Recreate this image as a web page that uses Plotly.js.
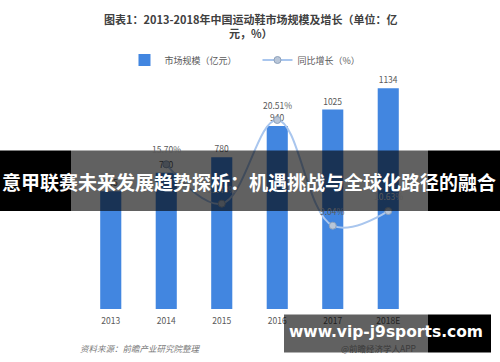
<!DOCTYPE html>
<html>
<head>
<meta charset="utf-8">
<script src="https://cdn.plot.ly/plotly-3.0.1.min.js"></script>
<style>
html,body{margin:0;padding:0;background:#fff;}
#chart{width:500px;height:362px;}
</style>
</head>
<body>
<div id="chart"></div>
<script>
var years = ['2013', '2014', '2015', '2016', '2017', '2018E'];
var marketSize = [605, 700, 780, 940, 1025, 1134];
var growth = [null, 15.70, 11.43, 20.51, 9.04, 10.63];
var growthLabels = ['', '15.70%', '11.43%', '20.51%', '9.04%', '10.63%'];

var titleText = '图表1：2013-2018年中国运动鞋市场规模及增长（单位：亿<br>元，%）';
var sourceText = '资料来源：前瞻产业研究院整理';
var appText = '@前瞻经济学人APP';
var bannerText = '意甲联赛未来发展趋势探析：机遇挑战与全球化路径的融合';
var siteText = 'www.vip-j9sports.com';

var cjk = '"Noto Sans CJK SC", "Noto Sans", sans-serif';

var traces = [
  {
    type: 'bar',
    name: '市场规模（亿元）',
    x: years,
    y: marketSize,
    marker: {color: '#4286e0'},
    text: marketSize.map(String),
    textposition: 'outside',
    textfont: {size: 8.5, color: '#595959', family: cjk},
    cliponaxis: false,
    hoverinfo: 'x+y'
  },
  {
    type: 'scatter',
    mode: 'lines+markers',
    name: '同比增长（%）',
    x: years,
    y: growth,
    yaxis: 'y2',
    line: {color: '#a9c6ee', width: 2, shape: 'spline', smoothing: 1.1},
    marker: {size: 7, color: '#b9c6d8', line: {color: '#8da1bb', width: 1}},
    cliponaxis: false,
    connectgaps: false
  }
];

// pixel helpers for paper coordinates (plot area: x 83..416, y 80..309)
function px(x) { return (x - 83) / 333; }
function py(y) { return (309 - y) / 229; }

var annotations = [];
for (var i = 0; i < years.length; i++) {
  if (growth[i] === null) continue;
  annotations.push({
    text: growthLabels[i], x: i, y: growth[i], xref: 'x', yref: 'y2',
    yshift: 15, showarrow: false, xanchor: 'center', yanchor: 'middle',
    font: {size: 8.5, color: '#595959', family: cjk}
  });
}
annotations.push(
  {text: titleText, xref: 'paper', yref: 'paper',
   x: px(250), y: py(9), xanchor: 'center', yanchor: 'top', align: 'center',
   showarrow: false,
   font: {size: 11, color: '#404040', family: cjk, weight: 'bold'}},
  {text: sourceText, xref: 'paper', yref: 'paper',
   x: px(78), y: py(348), xanchor: 'left', yanchor: 'middle',
   showarrow: false,
   font: {size: 8.5, color: '#7a7a7a', family: cjk, style: 'italic'}},
  {text: appText, xref: 'paper', yref: 'paper',
   x: px(339), y: py(348), xanchor: 'left', yanchor: 'middle',
   showarrow: false,
   font: {size: 8.5, color: '#3a3a3a', family: cjk}},
  {text: bannerText, xref: 'paper', yref: 'paper',
   x: px(249), y: py(181), xanchor: 'center', yanchor: 'middle',
   showarrow: false,
   font: {size: 19, color: '#ffffff', family: cjk, weight: 'bold'}},
  {text: siteText, xref: 'paper', yref: 'paper',
   x: px(386), y: py(332), xanchor: 'center', yanchor: 'middle',
   showarrow: false,
   font: {size: 15.5, color: '#ffffff', family: '"DejaVu Sans", sans-serif', weight: 'bold'}}
);

var layout = {
  width: 500,
  height: 362,
  margin: {l: 83, r: 84, t: 80, b: 53},
  paper_bgcolor: '#ffffff',
  plot_bgcolor: '#ffffff',
  font: {family: cjk, color: '#595959'},
  showlegend: true,
  legend: {
    orientation: 'h',
    x: 0.524, xanchor: 'center',
    y: py(60), yanchor: 'middle',
    font: {size: 9, color: '#595959', family: cjk},
    entrywidthmode: 'pixels',
    entrywidth: 88
  },
  bargap: 0.62,
  xaxis: {
    type: 'category',
    range: [-0.5, 5.5],
    autorange: false,
    showgrid: false,
    showline: false,
    zeroline: false,
    ticks: '',
    ticklabelstandoff: 5,
    tickfont: {size: 8.5, color: '#595959', family: cjk},
    fixedrange: true
  },
  yaxis: {
    range: [0, 1177],
    autorange: false,
    visible: false,
    showgrid: false,
    zeroline: false,
    fixedrange: true
  },
  yaxis2: {
    range: [0, 24.85],
    autorange: false,
    overlaying: 'y',
    side: 'right',
    visible: false,
    showgrid: false,
    zeroline: false,
    fixedrange: true
  },
  shapes: [
    {type: 'rect', xref: 'paper', yref: 'paper', layer: 'above',
     x0: px(0), x1: px(71), y0: py(211), y1: py(150.5),
     fillcolor: '#000000', line: {width: 0}},
    {type: 'rect', xref: 'paper', yref: 'paper', layer: 'above',
     x0: px(71), x1: px(428), y0: py(211), y1: py(150.5),
     fillcolor: 'rgba(0,0,0,0.62)', line: {width: 0}},
    {type: 'rect', xref: 'paper', yref: 'paper', layer: 'above',
     x0: px(428), x1: px(500), y0: py(211), y1: py(150.5),
     fillcolor: '#000000', line: {width: 0}},
    {type: 'rect', xref: 'paper', yref: 'paper', layer: 'above',
     x0: px(284), x1: px(428), y0: py(352.5), y1: py(314.5),
     fillcolor: 'rgba(0,0,0,0.62)', line: {width: 0}},
    {type: 'rect', xref: 'paper', yref: 'paper', layer: 'above',
     x0: px(428), x1: px(491), y0: py(352.5), y1: py(314.5),
     fillcolor: '#000000', line: {width: 0}}
  ],
  annotations: annotations
};

Plotly.newPlot('chart', traces, layout, {displayModeBar: false, staticPlot: true});
</script>
</body>
</html>
